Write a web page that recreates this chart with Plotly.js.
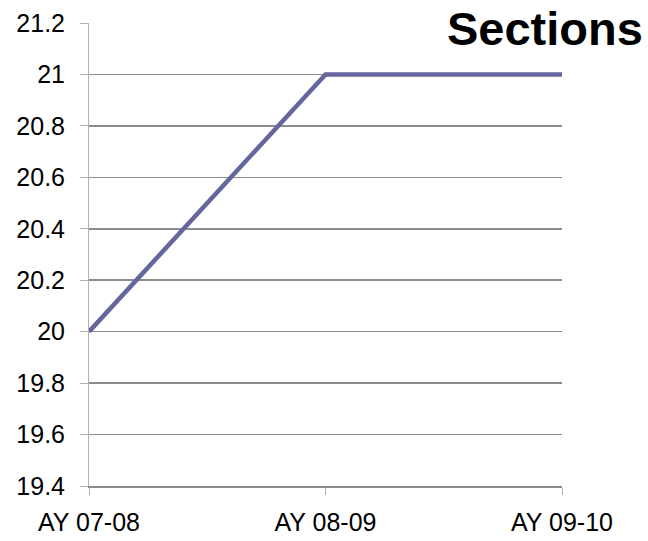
<!DOCTYPE html>
<html>
<head>
<meta charset="utf-8">
<script src="https://cdn.plot.ly/plotly-3.0.1.min.js"></script>
<style>html,body{margin:0;padding:0;background:#fff;}#chart{width:648px;height:541px;}</style>
</head>
<body>
<div id="chart"></div>
<script>
var categories = ["AY 07-08", "AY 08-09", "AY 09-10"];
var sections = [20, 21, 21];
var titleText = "Sections";

var trace = {
  x: categories,
  y: sections,
  type: "scatter",
  mode: "lines",
  line: {color: "#66669e", width: 4.5},
  hoverinfo: "none"
};

var layout = {
  width: 648,
  height: 541,
  margin: {l: 89, r: 86, t: 23, b: 55},
  paper_bgcolor: "#ffffff",
  plot_bgcolor: "#ffffff",
  font: {family: "Liberation Sans, Arial, sans-serif", color: "#000000", size: 25},
  showlegend: false,
  title: {
    text: "<b>" + titleText + "</b>",
    font: {size: 47, color: "#000000", family: "Liberation Sans, Arial, sans-serif"},
    xref: "container", yref: "container",
    x: 0.992, xanchor: "right",
    y: 0.948, yanchor: "middle"
  },
  xaxis: {
    type: "category",
    range: [0, 2],
    showgrid: false,
    showline: true,
    linecolor: "#8c8c8c",
    linewidth: 1.5,
    ticks: "outside",
    ticklen: 7,
    tickcolor: "#b0b0b0",
    tickwidth: 1,
    tickfont: {size: 25},
    ticklabelstandoff: 6,
    zeroline: false,
    fixedrange: true
  },
  yaxis: {
    range: [19.4, 21.2],
    tick0: 19.4,
    dtick: 0.2,
    showgrid: true,
    gridcolor: "#8c8c8c",
    gridwidth: 1.5,
    showline: true,
    linecolor: "#b0b0b0",
    linewidth: 1,
    ticks: "outside",
    ticklen: 8,
    tickcolor: "#b0b0b0",
    tickwidth: 1,
    tickfont: {size: 25},
    ticklabelstandoff: 10,
    zeroline: false,
    fixedrange: true
  }
};

Plotly.newPlot("chart", [trace], layout, {displayModeBar: false, staticPlot: true});
</script>
</body>
</html>
